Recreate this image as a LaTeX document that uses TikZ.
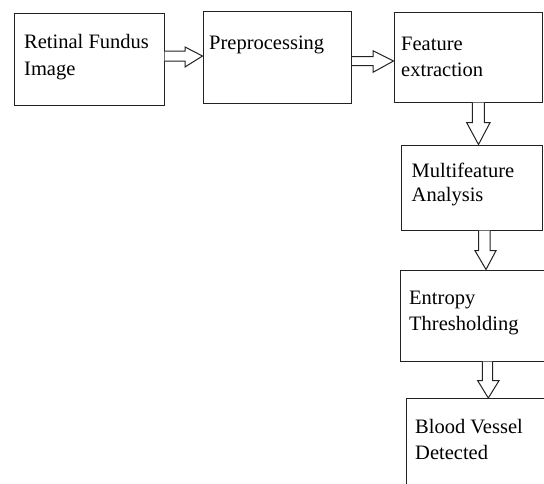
\documentclass[tikz,border=0pt]{standalone}
\usepackage{fontspec}
\setmainfont{Liberation Serif}
\usetikzlibrary{calc}
\definecolor{linec}{HTML}{222222}
\newcommand\boxtext[2]{\parbox[t]{160pt}{\fontsize{20.5}{#1}\selectfont\raggedright #2}}
\tikzset{
  stagebox/.style={draw=linec, line width=1pt, rectangle, inner sep=0pt},
  stagetext/.style={anchor=base west, inner sep=0pt, text=black},
  blockarrow/.style={draw=linec, line width=1pt, fill=white, line join=miter}
}
\begin{document}
\begin{tikzpicture}[x=1pt,y=-1pt]
\useasboundingbox (0,0) rectangle (544,483);
\clip (0,0) rectangle (544,483);
\fill[white] (0,0) rectangle (544,483);
% boxes
\node[stagebox, minimum width=150pt, minimum height=91.5pt] (b1) at (89,59.25) {};
\node[stagebox, minimum width=148.5pt, minimum height=92pt] (b2) at (277.25,57) {};
\node[stagebox, minimum width=148.5pt, minimum height=90pt] (b3) at (468.25,57) {};
\node[stagebox, minimum width=141.5pt, minimum height=85pt] (b4) at (471.75,187.5) {};
\node[stagebox, minimum width=170pt, minimum height=91pt] (b5) at (485,315.5) {};
\node[stagebox, minimum width=164pt, minimum height=121.5pt] (b6) at (488,459.25) {};
% texts
\node[stagetext] (t1) at (24,48) {\boxtext{27}{Retinal Fundus\\Image}};
\node[stagetext] (t2) at (209,49) {\boxtext{27}{Preprocessing}};
\node[stagetext] (t3) at (401,50) {\boxtext{26.5}{Feature\\extraction}};
\node[stagetext] (t4) at (411.5,177) {\boxtext{24.5}{Multifeature\\Analysis}};
\node[stagetext] (t5) at (409,304) {\boxtext{26.5}{Entropy\\Thresholding}};
\node[stagetext] (t6) at (415,433) {\boxtext{26}{Blood Vessel\\Detected}};
% block arrows
\draw[blockarrow] (b1.east |- 0,51) -- (185,51) -- (185,47) -- (b2.west |- 0,56) -- (185,67) -- (185,61) -- (b1.east |- 0,61);
\draw[blockarrow] (b2.east |- 0,56.7) -- (373,56.7) -- (373,50.7) -- (b3.west |- 0,61) -- (373,72.3) -- (373,65.7) -- (b2.east |- 0,65.7);
\draw[blockarrow] (472.3,0 |- b3.south) -- (472.3,122.7) -- (466.7,122.7) -- (478.5,0 |- b4.north) -- (490,122.7) -- (484.3,122.7) -- (484.3,0 |- b3.south);
\draw[blockarrow] (478.7,0 |- b4.south) -- (478.7,250.7) -- (475,250.7) -- (486,0 |- b5.north) -- (496,250.7) -- (490,250.7) -- (490,0 |- b4.south);
\draw[blockarrow] (482.3,0 |- b5.south) -- (482.3,380.7) -- (477.7,380.7) -- (488.3,0 |- b6.north) -- (499,380.7) -- (492.7,380.7) -- (492.7,0 |- b5.south);
\end{tikzpicture}
\end{document}
